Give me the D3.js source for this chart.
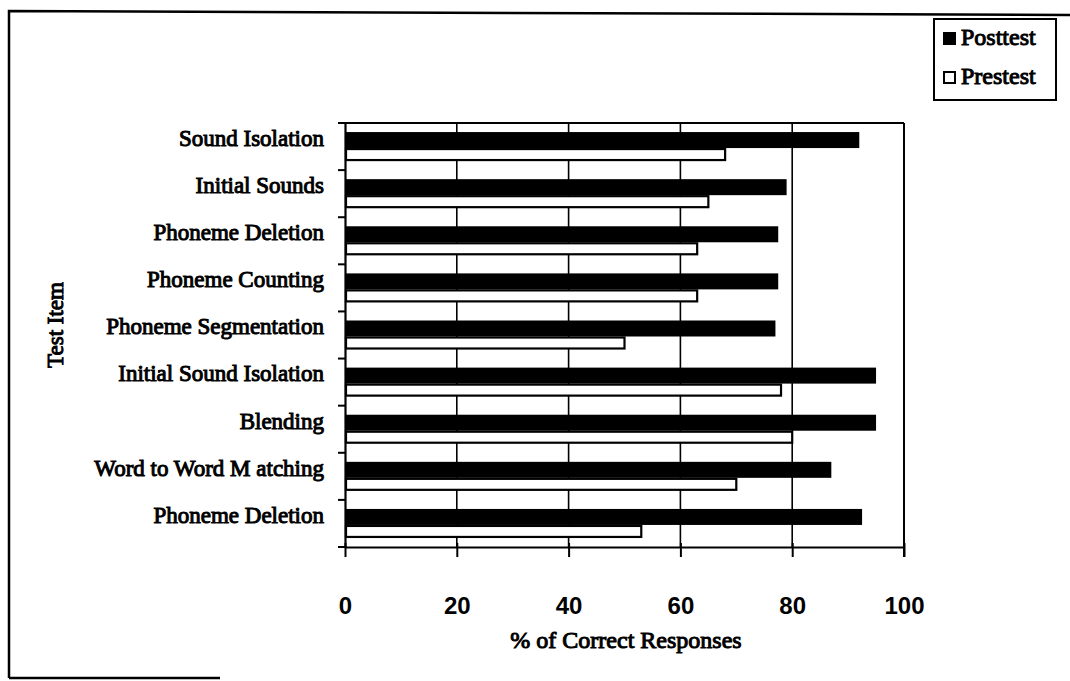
<!DOCTYPE html>
<html>
<head>
<meta charset="utf-8">
<script src="https://cdn.jsdelivr.net/npm/d3@7"></script>
<style>
  body { margin: 0; background: #fff; }
  text { font-family: "Liberation Serif", "DejaVu Serif", serif; fill: #000; }
  .ink { stroke: #000; stroke-width: 1px; }
</style>
</head>
<body>
<div id="chart"></div>
<script>
// Datos
// =====
var items = ["Sound Isolation", "Initial Sounds", "Phoneme Deletion", "Phoneme Counting",
  "Phoneme Segmentation", "Initial Sound Isolation", "Blending", "Word to Word M atching",
  "Phoneme Deletion "];
var posttest = [92, 79, 77.5, 77.5, 77, 95, 95, 87, 92.5];
var prestest = [68, 65, 63, 63, 50, 78, 80, 70, 53];
var xTicks = [0, 20, 40, 60, 80, 100];
var series = ["Posttest", "Prestest"];

// Dimensiones
// ===========
var W = 1070, H = 681;
var margin = { top: 123, right: 166, bottom: 134, left: 345 },
  width = W - margin.left - margin.right,
  height = H - margin.top - margin.bottom;

var svg = d3.select("#chart")
  .append("svg")
  .attr("width", W)
  .attr("height", H);

// marco exterior (recortado como en el escaneo)
svg.append("path")
  .attr("d", "M9,678 L9,11 L1070,15")
  .attr("fill", "none").attr("stroke", "#000").attr("stroke-width", 2.5);
svg.append("line")
  .attr("x1", 9).attr("x2", 220).attr("y1", 678).attr("y2", 678)
  .attr("stroke", "#000").attr("stroke-width", 2.5);

var g = svg.append("g")
  .attr("transform", "translate(" + margin.left + "," + margin.top + ")");

// Escalas
// =======
var x = d3.scaleLinear().domain([0, 100]).range([0, width]);
var y = d3.scaleBand().domain(d3.range(items.length)).range([0, height]).padding(0);
var barH = { Posttest: 16, Prestest: 13 };
var groupH = barH.Posttest + barH.Prestest;

// rejilla vertical
g.selectAll(".grid")
  .data(xTicks.slice(1))
  .enter().append("line")
  .attr("x1", function(d) { return x(d); })
  .attr("x2", function(d) { return x(d); })
  .attr("y1", 0).attr("y2", height)
  .attr("stroke", "#000").attr("stroke-width", 1.6);

// borde superior
g.append("line")
  .attr("x1", 0).attr("x2", width).attr("y1", 0).attr("y2", 0)
  .attr("stroke", "#000").attr("stroke-width", 2);

// Barras
// ======
var rows = g.selectAll(".row")
  .data(items)
  .enter().append("g")
  .attr("transform", function(d, i) { return "translate(0," + (y(i) + (y.bandwidth() - groupH) / 2) + ")"; });

rows.append("rect")
  .attr("x", 0)
  .attr("y", 0)
  .attr("width", function(d, i) { return x(posttest[i]); })
  .attr("height", barH.Posttest)
  .attr("fill", "#000");

rows.append("rect")
  .attr("x", 1)
  .attr("y", barH.Posttest + 1)
  .attr("width", function(d, i) { return x(prestest[i]) - 1; })
  .attr("height", barH.Prestest - 2)
  .attr("fill", "#fff")
  .attr("stroke", "#000")
  .attr("stroke-width", 2.2);

// Eje X
// =====
var xAxis = g.append("g")
  .attr("transform", "translate(0," + height + ")")
  .call(d3.axisBottom(x).tickValues(xTicks).tickSizeInner(10).tickSizeOuter(0).tickPadding(40));
xAxis.select(".domain").attr("stroke-width", 2.2);
xAxis.selectAll(".tick line").attr("stroke-width", 2).attr("y1", -4);
xAxis.selectAll(".tick text")
  .style("font-family", "'Liberation Sans', Arial, sans-serif")
  .style("font-weight", "bold")
  .style("font-size", "24px");

// Eje Y
// =====
var yAxis = g.append("g")
  .call(d3.axisLeft(y).tickValues([]).tickSizeOuter(0));
yAxis.select(".domain").attr("stroke-width", 2.2);

// marcas en los limites de cada categoria
g.selectAll(".ytick")
  .data(d3.range(items.length + 1))
  .enter().append("line")
  .attr("x1", -7).attr("x2", 0)
  .attr("y1", function(i) { return i < items.length ? y(i) : height; })
  .attr("y2", function(i) { return i < items.length ? y(i) : height; })
  .attr("stroke", "#000").attr("stroke-width", 2);

// borde derecho
g.append("line")
  .attr("x1", width).attr("x2", width).attr("y1", 0).attr("y2", height + 10)
  .attr("stroke", "#000").attr("stroke-width", 2);

g.selectAll(".cat")
  .data(items)
  .enter().append("text")
  .attr("class", "ink")
  .attr("x", -21)
  .attr("y", function(d, i) { return y(i) + y.bandwidth() / 2 - 6; })
  .attr("text-anchor", "end")
  .attr("dominant-baseline", "middle")
  .style("font-size", "23px")
  .text(function(d) { return d; });

// Titulos
// =======
svg.append("text")
  .attr("class", "ink")
  .attr("x", 626).attr("y", 648)
  .attr("text-anchor", "middle")
  .style("font-size", "24px")
  .text("% of Correct Responses");

svg.append("text")
  .attr("class", "ink")
  .attr("transform", "translate(63,325) rotate(-90)")
  .attr("text-anchor", "middle")
  .style("font-size", "23px")
  .text("Test Item");

// Leyenda
// =======
var leg = svg.append("g").attr("transform", "translate(934,19)");
leg.append("rect")
  .attr("width", 122).attr("height", 81)
  .attr("fill", "#fff").attr("stroke", "#000").attr("stroke-width", 2);
var li = leg.selectAll(".li")
  .data(series)
  .enter().append("g")
  .attr("transform", function(d, i) { return "translate(10," + (14 + i * 39) + ")"; });
li.append("rect")
  .attr("y", 0)
  .attr("width", 11).attr("height", 11)
  .attr("fill", function(d, i) { return i === 0 ? "#000" : "#fff"; })
  .attr("stroke", "#000").attr("stroke-width", 2);
li.append("text")
  .attr("class", "ink")
  .attr("x", 17).attr("y", 12)
  .style("font-size", "24px")
  .text(function(d) { return d; });
</script>
</body>
</html>
